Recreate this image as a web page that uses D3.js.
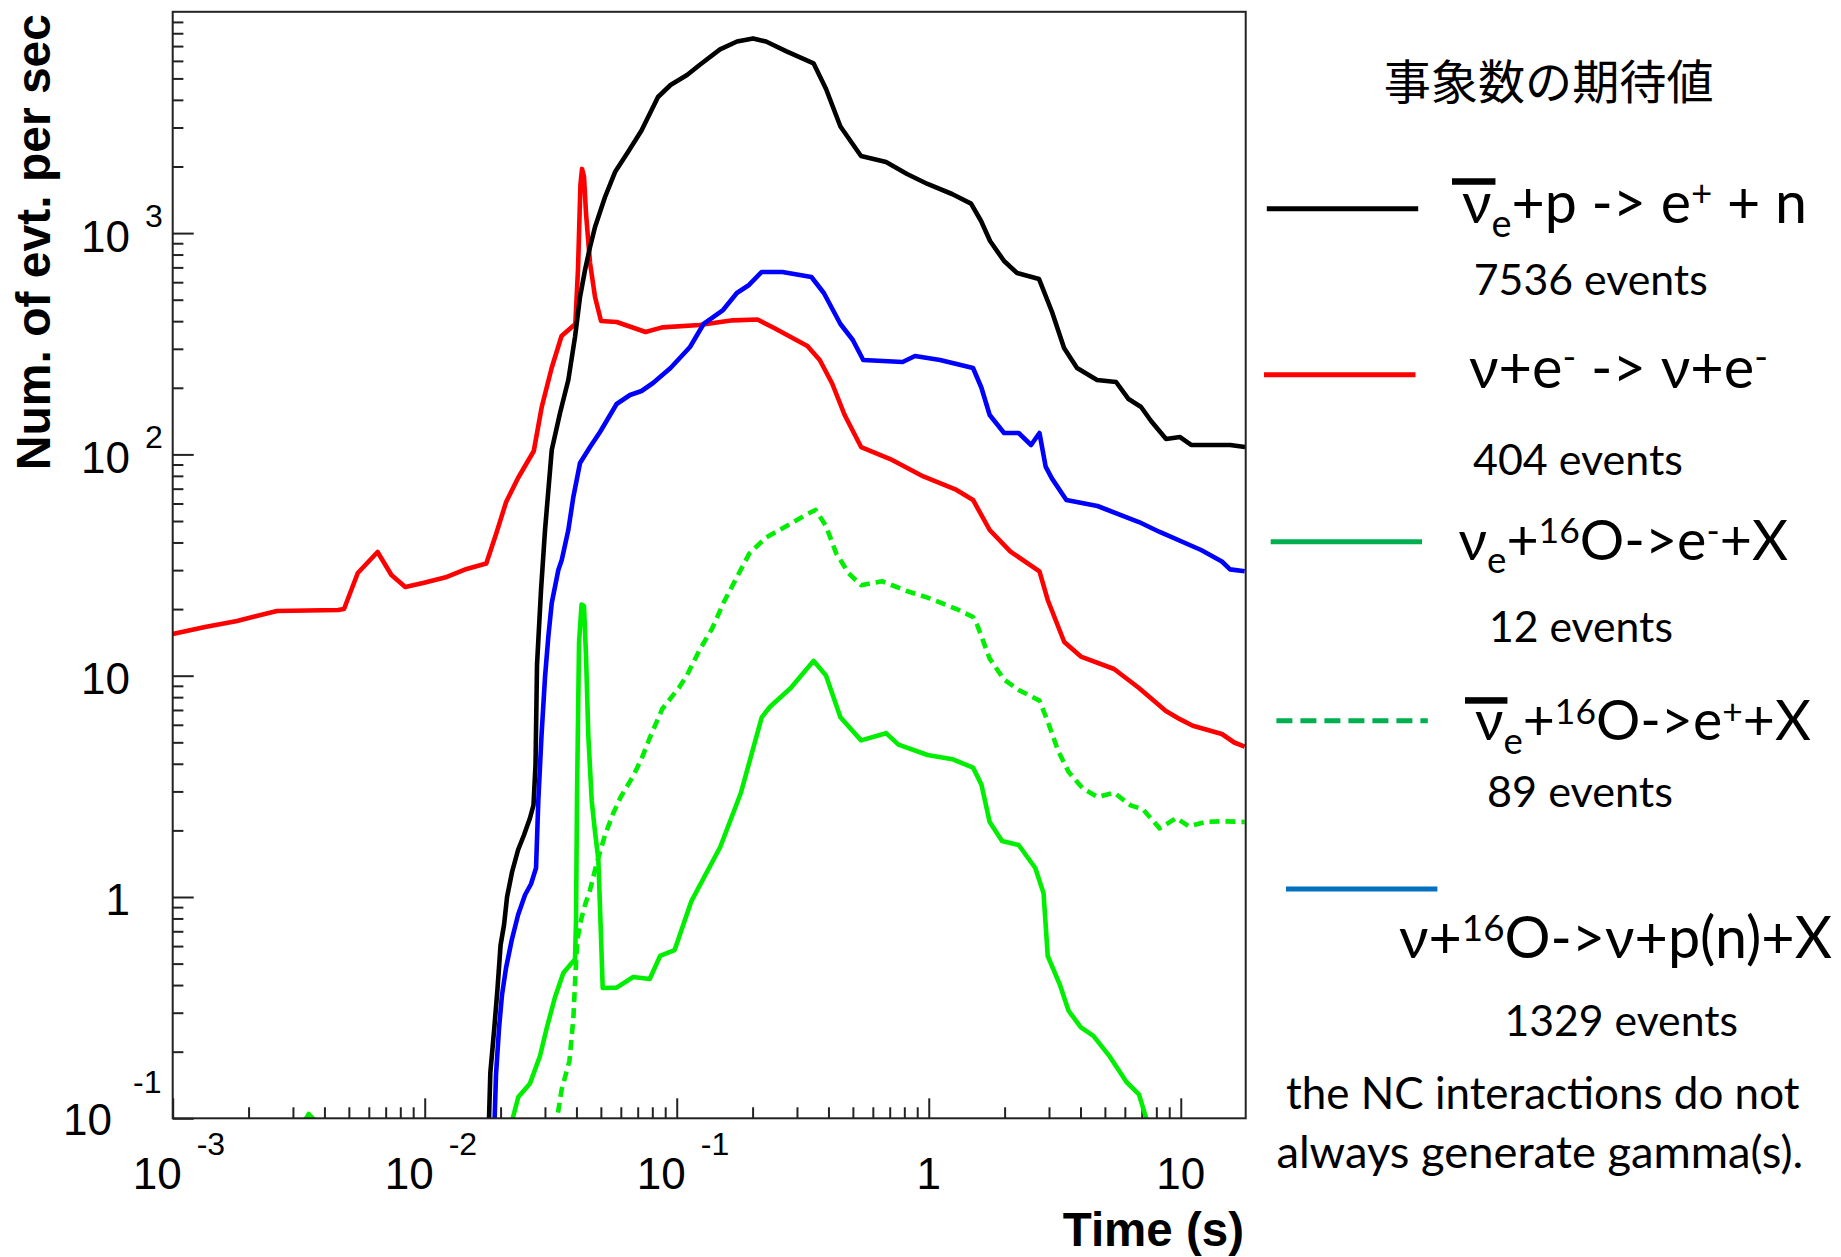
<!DOCTYPE html>
<html>
<head>
<meta charset="utf-8">
<title>Expected supernova neutrino event rates</title>
<script src="https://cdn.jsdelivr.net/npm/d3@7/dist/d3.min.js"></script>
<style>
  html, body { margin: 0; padding: 0; background: #ffffff; }
  svg { display: block; }
  text { white-space: pre; }
</style>
</head>
<body>
<svg id="chart" width="1841" height="1257"></svg>
<script>
// ---- event rate per second versus time after core bounce (s) ----

// anti-nu_e + p -> e+ + n (inverse beta decay)
const ibdTime = [0.01795, 0.01821, 0.01884, 0.01943, 0.0200, 0.02064, 0.02122, 0.02221, 0.02346, 0.02477,
  0.02617, 0.02702, 0.02752, 0.02790, 0.02894, 0.03002, 0.03192, 0.03443, 0.03714, 0.03948,
  0.04133, 0.04326, 0.04529, 0.04740, 0.05194, 0.05691, 0.06407, 0.07248, 0.08428, 0.09449,
  0.1099, 0.1232, 0.1485, 0.1735, 0.2008, 0.2261, 0.2727, 0.3490, 0.3913, 0.4462,
  0.5386, 0.6771, 0.8202, 0.989, 1.237, 1.472, 1.613, 1.751, 1.990, 2.241,
  2.740, 3.085, 3.443, 3.877, 4.655, 5.538, 6.207, 6.959, 7.624, 8.744,
  9.936, 10.99, 15.69, 18.0];
const ibdRate = [0.09, 0.1602, 0.2479, 0.3799, 0.6068, 0.7472, 1.0, 1.297, 1.631, 1.906,
  2.275, 2.604, 3.950, 11.18, 24.39, 45.54, 104.7, 153.9, 216.9, 339.3,
  514.3, 681.3, 865.3, 1066, 1456, 1888, 2326, 2908, 4121, 4669,
  5180, 5749, 6763, 7342, 7583, 7342, 6624, 5852, 4478, 3031,
  2230, 2096, 1850, 1667, 1502, 1359, 1134, 921, 748, 660,
  620, 440, 302.7, 245.7, 216.9, 212.4, 177.9, 163.8, 141.6, 117.4,
  119.8, 110.3, 110.3, 108.0];

// nu + e- -> nu + e- (elastic scattering)
const esTime = [0.001, 0.001344, 0.001800, 0.002594, 0.004529, 0.004784, 0.005426, 0.006501, 0.007378, 0.008375,
  0.009847, 0.01224, 0.01467, 0.01755, 0.01921, 0.02104, 0.02346, 0.02709, 0.02913, 0.03189,
  0.03491, 0.03959, 0.04058, 0.04148, 0.04209, 0.04286, 0.04366, 0.04529, 0.04740, 0.05008,
  0.05774, 0.07525, 0.08759, 0.1232, 0.1667, 0.2092, 0.2434, 0.3299, 0.3694, 0.4137,
  0.4637, 0.5391, 0.7034, 0.9519, 1.289, 1.499, 1.745, 2.110, 2.750, 2.966,
  3.449, 4.015, 5.437, 6.826, 8.728, 9.963, 11.16, 14.56, 16.30, 17.93];
const esRate = [15.43, 16.60, 17.67, 19.61, 19.81, 20.01, 29.11, 36.22, 28.51, 25.17,
  26.24, 27.93, 30.36, 32.14, 43.78, 60.93, 78.25, 103.6, 163.8, 245.7,
  342.8, 388.4, 688.4, 1650, 1950, 1800, 1226, 732.7, 514.3, 400.6,
  396.5, 357.4, 374.9, 384.4, 403.5, 406.9, 372.6, 309.0, 267.1, 209.1,
  150.7, 108.0, 95.3, 79.5, 69.05, 62.23, 45.54, 36.37, 29.60, 21.99,
  14.20, 12.20, 10.72, 8.800, 6.925, 6.346, 5.944, 5.453, 4.990, 4.778];

// nu + 16O -> nu + p(n) + X (neutral current)
const ncTime = [0.01889, 0.01918, 0.01972, 0.02026, 0.02102, 0.02215, 0.02346, 0.02500, 0.02641, 0.02765,
  0.02824, 0.02908, 0.03002, 0.03094, 0.03192, 0.03390, 0.03497, 0.03714, 0.03888, 0.04133,
  0.04529, 0.04962, 0.05774, 0.06527, 0.07248, 0.08054, 0.09449, 0.1129, 0.1278, 0.1527,
  0.1732, 0.1936, 0.2174, 0.2626, 0.3423, 0.3835, 0.4462, 0.4997, 0.5496, 0.7877,
  0.8822, 1.109, 1.499, 1.617, 1.745, 1.990, 2.274, 2.547, 2.750, 2.910,
  3.080, 3.516, 4.671, 6.826, 8.249, 12.04, 14.56, 15.69, 17.93];
const ncRate = [0.09, 0.1569, 0.2559, 0.3607, 0.4778, 0.6393, 0.8291, 1.021, 1.145, 1.352,
  2.744, 5.395, 9.865, 15.01, 21.30, 30.04, 33.33, 45.54, 64.18, 91.43,
  108.0, 126.3, 168.9, 185.5, 193.4, 210.2, 245.7, 305.8, 388.4, 449.2,
  536.2, 582.9, 667.3, 667.3, 633.4, 536.2, 388.4, 328.8, 267.1, 261.5,
  278.3, 267.1, 245.7, 200.6, 150.7, 124.9, 124.9, 110.3, 124.9, 88.06,
  77.92, 62.23, 58.45, 49.48, 44.61, 36.98, 32.81, 30.23, 29.64];

// nu_e + 16O -> e- + X (null marks a gap where the rate is zero)
const oNueTime = [0.0032, 0.003467, 0.003913, 0.0045,
  0.02181, 0.02352, 0.02617, 0.02867, 0.03049, 0.03290, 0.03548, 0.03831, 0.03948, 0.03985,
  0.04022, 0.04096, 0.04191, 0.04286, 0.04366, 0.04459, 0.04600, 0.04740, 0.04886, 0.04994,
  0.05085, 0.05774, 0.06720, 0.07812, 0.08591, 0.09811, 0.1141, 0.1488, 0.1798, 0.2174,
  0.2345, 0.2834, 0.3490, 0.3910, 0.4462, 0.5391, 0.6771, 0.7582, 0.989, 1.241,
  1.499, 1.617, 1.745, 1.954, 2.274, 2.647, 2.855, 2.966, 3.322, 3.585,
  4.015, 4.499, 5.232, 6.088, 6.826, 7.499];
const oNueRate = [0.09, 0.1046, 0.09, null,
  0.09, 0.1248, 0.1438, 0.1912, 0.2559, 0.3532, 0.4536, 0.5031, 0.5224, 0.7873,
  2.920, 14.11, 20.97, 20.65, 12.27, 5.361, 2.716, 1.967, 1.476, 0.7205,
  0.3880, 0.3896, 0.4350, 0.4261, 0.5413, 0.5761, 0.9524, 1.682, 2.960, 6.486,
  7.236, 8.800, 11.67, 10.03, 6.486, 5.101, 5.499, 4.884, 4.382, 4.194,
  3.843, 3.228, 2.183, 1.791, 1.718, 1.352, 1.039, 0.5413, 0.3983, 0.3067,
  0.2576, 0.2359, 0.1899, 0.1459, 0.1282, 0.09];

// anti-nu_e + 16O -> e+ + X
const oNuebarTime = [0.03304, 0.03491, 0.03751, 0.03888, 0.03959, 0.04033, 0.04171, 0.04326, 0.04529, 0.04828,
  0.05194, 0.05582, 0.05994, 0.06720, 0.07248, 0.07812, 0.08759, 0.1019, 0.1099, 0.1232,
  0.1379, 0.1546, 0.1732, 0.1940, 0.2257, 0.2727, 0.3299, 0.3555, 0.3910, 0.4298,
  0.4813, 0.5391, 0.6521, 0.8180, 1.027, 1.289, 1.499, 1.557, 1.745, 1.990,
  2.274, 2.750, 2.966, 3.260, 3.585, 4.092, 4.671, 5.437, 6.328, 7.087,
  8.249, 9.596, 10.75, 12.51, 14.56, 17.93];
const oNuebarRate = [0.09, 0.1342, 0.1815, 0.2810, 0.4350, 0.6393, 0.7873, 0.9203, 1.076, 1.439,
  1.906, 2.371, 2.830, 3.523, 4.203, 5.230, 7.072, 8.800, 10.07, 13.07,
  16.26, 21.76, 27.84, 35.62, 42.03, 47.48, 53.80, 56.09, 47.48, 35.62,
  29.01, 25.64, 26.73, 24.14, 22.22, 20.01, 18.41, 16.95, 11.94, 9.603,
  8.618, 7.718, 6.209, 4.578, 3.680, 3.089, 2.830, 2.960, 2.596, 2.486,
  2.042, 2.275, 2.087, 2.183, 2.200, 2.183];

// expected total number of events per channel (legend order)
const eventCounts = [7536, 404, 12, 89, 1329];

// axis tick labels
const xTickValues = [1e-3, 1e-2, 1e-1, 1, 10];
const xTickBase = ["10", "10", "10", "1", "10"];
const xTickExp = ["-3", "-2", "-1", "", ""];
const yTickValues = [1e3, 1e2, 10, 1, 0.1];
const yTickBase = ["10", "10", "10", "1", "10"];
const yTickExp = ["3", "2", "", "", "-1"];

// legend reaction formulas: [text, kind] with kind n = normal, sub, sup
const reactionSegs = [
  [["ν", "n"], ["e", "sub"], ["+p -> e", "n"], ["+", "sup"], [" + n", "n"]],
  [["ν+e", "n"], ["-", "sup"], [" -> ν+e", "n"], ["-", "sup"]],
  [["ν", "n"], ["e", "sub"], ["+", "n"], ["16", "sup"], ["O->e", "n"], ["-", "sup"], ["+X", "n"]],
  [["ν", "n"], ["e", "sub"], ["+", "n"], ["16", "sup"], ["O->e", "n"], ["+", "sup"], ["+X", "n"]],
  [["ν+", "n"], ["16", "sup"], ["O->ν+p(n)+X", "n"]]
];
const reactionBar = [true, false, false, true, false];

// ---- drawing ----
const svg = d3.select("#chart");
const frame = { left: 172.7, right: 1245.7, top: 11.8, bottom: 1118.3 };
const x = d3.scaleLog().domain([1e-3, 18.1]).range([frame.left, frame.right]);
const y = d3.scaleLog().domain([0.1, 1e4]).range([frame.bottom, frame.top]);

const axisColor = "#222222";
const tickFont = "'Liberation Sans', Arial, Helvetica, sans-serif";
const legendFont = "Lato, 'Open Sans', 'Noto Sans', sans-serif";

svg.append("rect").attr("width", 1841).attr("height", 1257).attr("fill", "#ffffff");

// minor tick positions: 2..9 within each decade
const xMinor = [];
for (let d = -3; d <= 1; d++) for (let k = 2; k <= 9; k++) {
  const v = k * Math.pow(10, d);
  if (v <= x.domain()[1]) xMinor.push(v);
}
const yMinor = [];
for (let d = -1; d <= 3; d++) for (let k = 2; k <= 9; k++) yMinor.push(k * Math.pow(10, d));

function styleAxis(g) {
  g.select(".domain").remove();
  g.selectAll(".tick text").remove();
  g.selectAll(".tick line").attr("stroke", axisColor).attr("stroke-width", 2);
}

svg.append("g").attr("transform", `translate(0,${frame.bottom})`)
  .call(d3.axisBottom(x).tickValues(xMinor).tickSize(-11).tickFormat("")).call(styleAxis);
svg.append("g").attr("transform", `translate(0,${frame.bottom})`)
  .call(d3.axisBottom(x).tickValues(xTickValues).tickSize(-20).tickFormat("")).call(styleAxis);
svg.append("g").attr("transform", `translate(${frame.left},0)`)
  .call(d3.axisLeft(y).tickValues(yMinor).tickSize(-10.7).tickFormat("")).call(styleAxis);
svg.append("g").attr("transform", `translate(${frame.left},0)`)
  .call(d3.axisLeft(y).tickValues(yTickValues).tickSize(-21).tickFormat("")).call(styleAxis);

// curves, clipped to the frame
svg.append("clipPath").attr("id", "plotClip").append("rect")
  .attr("x", frame.left).attr("y", frame.top)
  .attr("width", frame.right - frame.left).attr("height", frame.bottom - frame.top);

const series = [
  { time: esTime, rate: esRate, color: "#ff0000", dash: null },
  { time: ibdTime, rate: ibdRate, color: "#000000", dash: null },
  { time: ncTime, rate: ncRate, color: "#0000ff", dash: null },
  { time: oNuebarTime, rate: oNuebarRate, color: "#00ee00", dash: "10,6" },
  { time: oNueTime, rate: oNueRate, color: "#00ee00", dash: null }
];
const line = d3.line().defined(d => d.r != null).x(d => x(d.t)).y(d => y(d.r));
const curveG = svg.append("g").attr("clip-path", "url(#plotClip)");
series.forEach(s => {
  const pts = s.time.map((t, i) => ({ t: t, r: s.rate[i] }));
  curveG.append("path").datum(pts).attr("d", line)
    .attr("fill", "none").attr("stroke", s.color).attr("stroke-width", 4.6)
    .attr("stroke-linejoin", "round")
    .attr("stroke-dasharray", s.dash);
});

// frame
svg.append("rect").attr("x", frame.left).attr("y", frame.top)
  .attr("width", frame.right - frame.left).attr("height", frame.bottom - frame.top)
  .attr("fill", "none").attr("stroke", axisColor).attr("stroke-width", 2);

// tick labels with powers of ten
const labelG = svg.append("g").attr("font-family", tickFont).attr("fill", "#000");
xTickValues.forEach((v, i) => {
  const px = x(v);
  if (xTickExp[i]) {
    labelG.append("text").attr("x", px + 9).attr("y", 1189).attr("text-anchor", "end")
      .attr("font-size", 44).text(xTickBase[i]);
    labelG.append("text").attr("x", px + 24).attr("y", 1155)
      .attr("font-size", 32).text(xTickExp[i]);
  } else {
    labelG.append("text").attr("x", px).attr("y", 1189).attr("text-anchor", "middle")
      .attr("font-size", 44).text(xTickBase[i]);
  }
});
yTickValues.forEach((v, i) => {
  const py = y(v);
  const exp = yTickExp[i];
  if (!exp) {
    labelG.append("text").attr("x", 130).attr("y", py + 18).attr("text-anchor", "end")
      .attr("font-size", 44).text(yTickBase[i]);
  } else if (exp.startsWith("-")) {
    labelG.append("text").attr("x", 112).attr("y", py + 17).attr("text-anchor", "end")
      .attr("font-size", 44).text(yTickBase[i]);
    labelG.append("text").attr("x", 133).attr("y", py - 25)
      .attr("font-size", 32).text(exp);
  } else {
    labelG.append("text").attr("x", 130).attr("y", py + 19).attr("text-anchor", "end")
      .attr("font-size", 44).text(yTickBase[i]);
    labelG.append("text").attr("x", 145).attr("y", py - 6)
      .attr("font-size", 32).text(exp);
  }
});

// axis titles
svg.append("text").attr("transform", "translate(50,14) rotate(-90)")
  .attr("text-anchor", "end").attr("font-family", tickFont).attr("font-weight", "bold")
  .attr("font-size", 48).text("Num. of evt. per sec");
svg.append("text").attr("x", 1244).attr("y", 1246)
  .attr("text-anchor", "end").attr("font-family", tickFont).attr("font-weight", "bold")
  .attr("font-size", 47.5).text("Time (s)");

// ---- legend ----
const legendG = svg.append("g").attr("fill", "#000");

function plainText(str, x0, base, width, family) {
  const make = size => legendG.append("text").attr("x", x0).attr("y", base)
    .attr("font-family", family).attr("font-size", size).text(str);
  let t = make(50);
  const w = t.node().getComputedTextLength();
  t.remove();
  return make(50 * width / w);
}

function richText(segs, x0, base, size) {
  const t = legendG.append("text").attr("x", x0).attr("y", base)
    .attr("font-family", legendFont).attr("font-size", size);
  let shift = 0;
  segs.forEach(([txt, kind]) => {
    const s = kind === "sub" ? 0.25 * size : kind === "sup" ? -0.30 * size : 0;
    const fs = kind === "n" ? size : kind === "sub" ? 0.66 * size : 0.64 * size;
    t.append("tspan").attr("dy", s - shift).attr("font-size", fs).text(txt);
    shift = s;
  });
  return t;
}
function fittedRich(segs, x0, base, width) {
  let t = richText(segs, x0, base, 60);
  const w = t.node().getComputedTextLength();
  t.remove();
  const size = 60 * width / w;
  return { node: richText(segs, x0, base, size), size: size };
}

// title
plainText("事象数の期待値", 1383.7, 99, 330, "'Noto Sans CJK JP', sans-serif");

const legendLines = [
  { x1: 1266.8, x2: 1418.2, y: 208.8, color: "#000000", dash: null },
  { x1: 1264.0, x2: 1415.5, y: 374.8, color: "#ff0000", dash: null },
  { x1: 1270.7, x2: 1422.0, y: 541.7, color: "#00b050", dash: null },
  { x1: 1276.4, x2: 1427.8, y: 720.7, color: "#00b050", dash: "16,8" },
  { x1: 1286.0, x2: 1437.4, y: 889.0, color: "#0070c0", dash: null }
];
const reactionPos = [
  { x: 1462, base: 223, width: 345 },
  { x: 1469, base: 387.5, width: 299 },
  { x: 1458.5, base: 559.5, width: 329.5 },
  { x: 1475, base: 740.4, width: 336 },
  { x: 1399, base: 958, width: 433 }
];
const countPos = [
  { x: 1473.8, base: 294.6, width: 234 },
  { x: 1473, base: 474.5, width: 210 },
  { x: 1489, base: 641.9, width: 184 },
  { x: 1487, base: 807.4, width: 186 },
  { x: 1504.5, base: 1035.8, width: 233.5 }
];

legendLines.forEach((l, i) => {
  legendG.append("line").attr("x1", l.x1).attr("x2", l.x2).attr("y1", l.y).attr("y2", l.y)
    .attr("stroke", l.color).attr("stroke-width", 5).attr("stroke-dasharray", l.dash);

  const p = reactionPos[i];
  const r = fittedRich(reactionSegs[i], p.x, p.base, p.width);
  if (reactionBar[i]) {
    const ext = r.node.node().getExtentOfChar(0);
    legendG.append("rect")
      .attr("x", ext.x - 10).attr("y", p.base - 0.78 * r.size)
      .attr("width", ext.width + 14).attr("height", 6.5)
      .attr("fill", "#000");
  }

  const c = countPos[i];
  plainText(`${eventCounts[i]} events`, c.x, c.base, c.width, legendFont);
});

plainText("the NC interactions do not", 1286, 1109, 513.6, legendFont);
plainText("always generate gamma(s).", 1276.4, 1167.7, 527, legendFont);
</script>
</body>
</html>
